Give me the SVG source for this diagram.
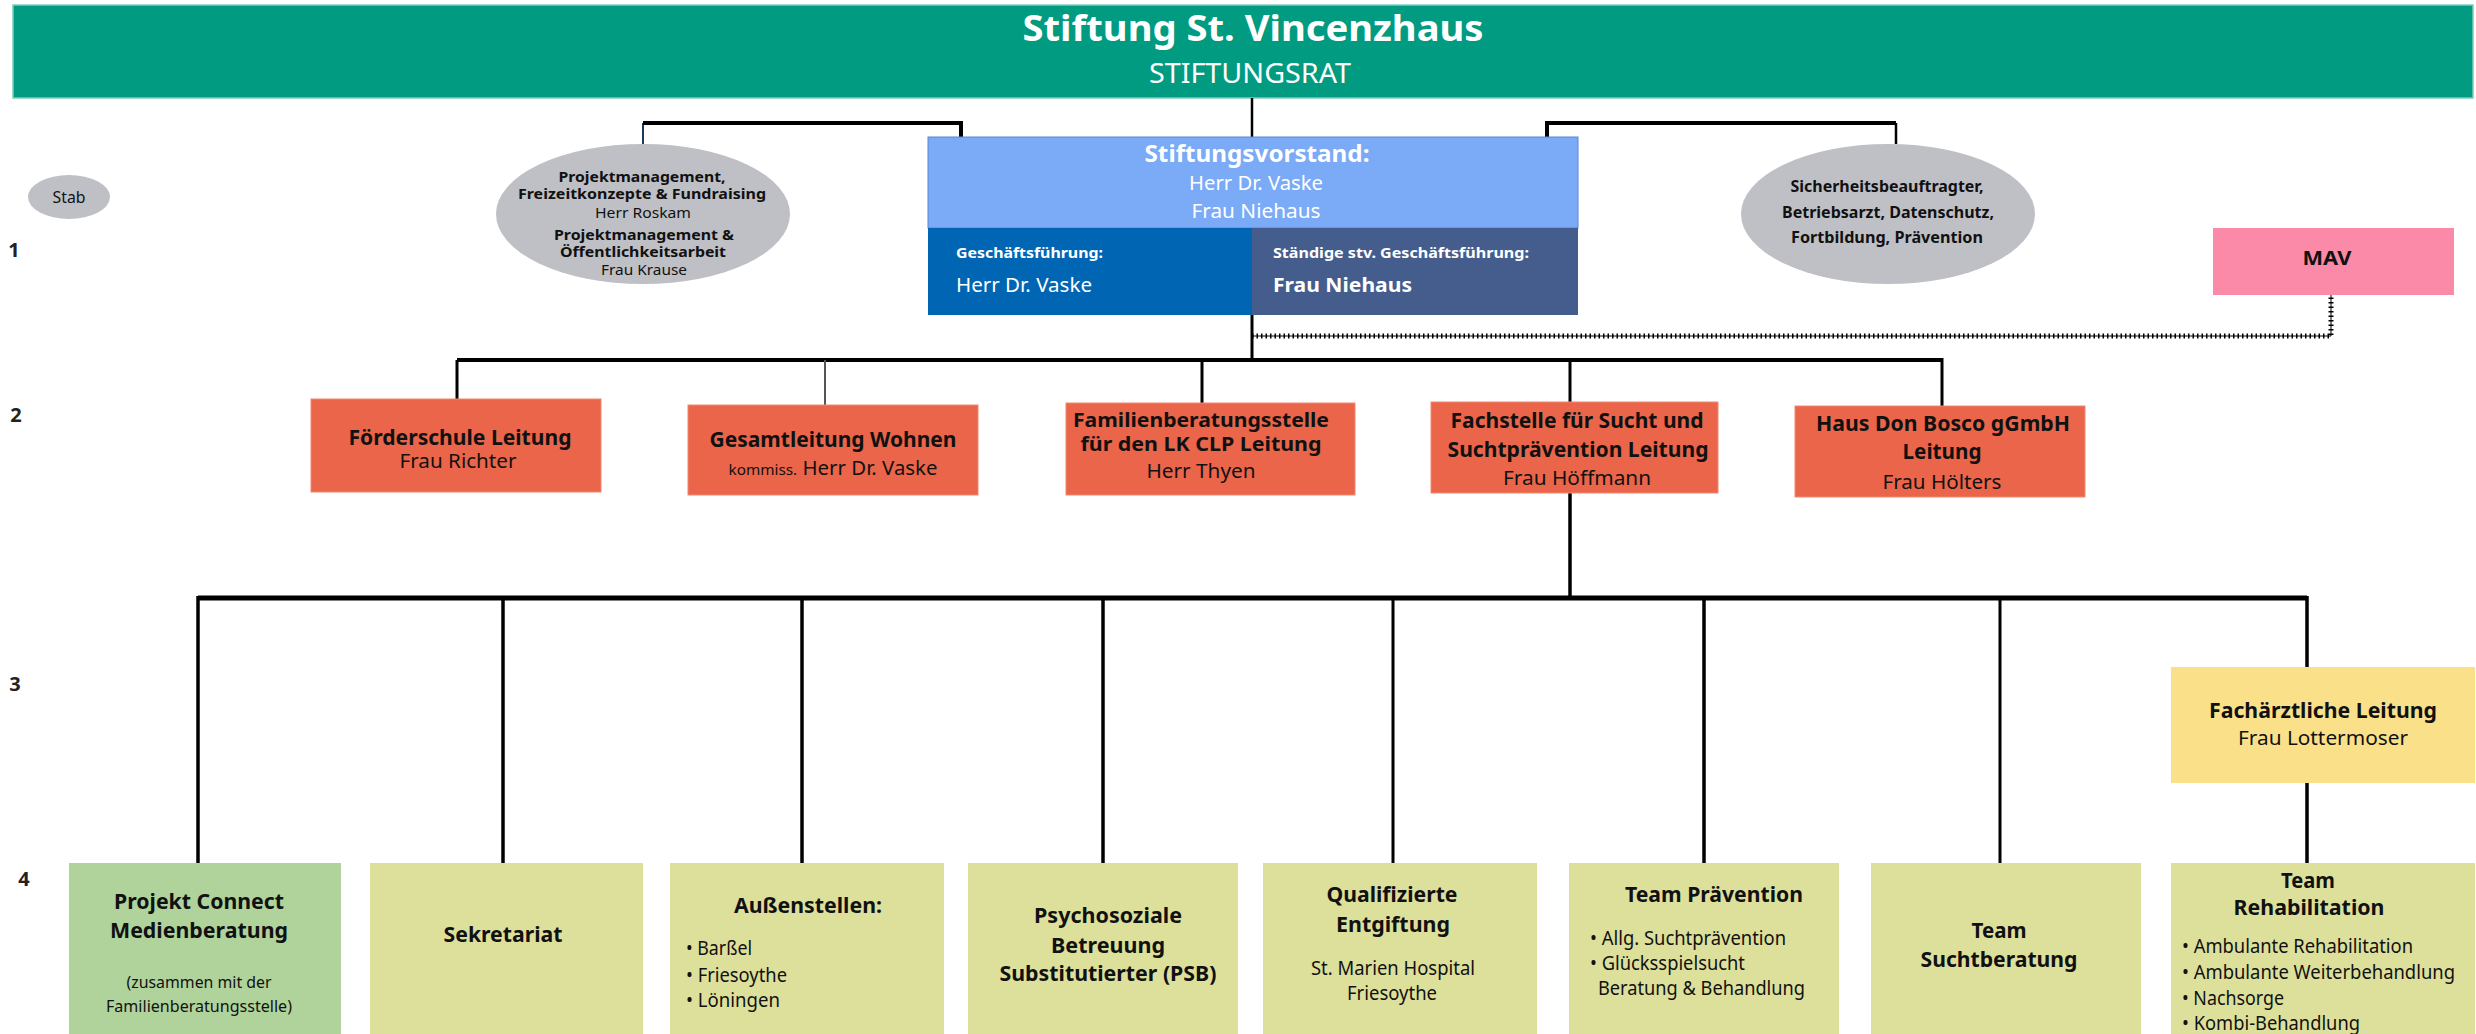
<svg xmlns="http://www.w3.org/2000/svg" width="2476" height="1034" viewBox="0 0 2476 1034">
<style>
text{font-family:"Noto Sans","Open Sans",sans-serif;fill:#111;}
.b{font-weight:700;}
.w{fill:#fff;}
.m{text-anchor:middle;}
.lvl{font-size:20px;font-weight:700;fill:#222;text-anchor:middle;}
.ell{fill:#bfc0c5;}
.org{fill:#ea6549;stroke:#f08a72;stroke-width:1;}
.l4{fill:#dde09b;}
.ln{stroke:#000;fill:none;}
</style>
<rect width="2476" height="1034" fill="#fff"/>

<g id="header">
<rect x="13" y="5" width="2460" height="93" fill="#009b80" stroke="#7fcdbb" stroke-width="1.5"/>
<text class="b w m" x="1253" y="41" font-size="35" textLength="461" lengthAdjust="spacingAndGlyphs">Stiftung St. Vincenzhaus</text>
<text class="w m" x="1250" y="83" font-size="28" textLength="202" lengthAdjust="spacingAndGlyphs">STIFTUNGSRAT</text>
</g>

<g id="level-labels">
<text class="lvl" x="14" y="257">1</text>
<text class="lvl" x="16" y="422">2</text>
<text class="lvl" x="15" y="691">3</text>
<text class="lvl" x="24" y="886">4</text>
</g>

<g id="connectors">
<line class="ln" x1="1252" y1="98" x2="1252" y2="137" stroke-width="2.5"/>
<line x1="643" y1="123" x2="643" y2="145" stroke="#1a3a5c" stroke-width="2"/>
<path class="ln" d="M643 123 H961 V138" stroke-width="4"/>
<path class="ln" d="M1547 138 V123 H1896" stroke-width="4"/>
<line class="ln" x1="1896" y1="123" x2="1896" y2="144" stroke-width="2.5"/>
<line class="ln" x1="1252" y1="315" x2="1252" y2="361" stroke-width="3"/>
<path class="ln" d="M1252 336 H2331 V295" stroke-width="1"/>
<path class="ln" d="M1252 336 H2331 V295" stroke-width="5" stroke-dasharray="1.5 3"/>
<path class="ln" d="M457 360 H1942" stroke-width="4"/>
<line class="ln" x1="457" y1="360" x2="457" y2="399" stroke-width="3"/>
<line x1="825" y1="360" x2="825" y2="405" stroke="#555" stroke-width="2"/>
<line class="ln" x1="1202" y1="360" x2="1202" y2="403" stroke-width="3"/>
<line class="ln" x1="1570" y1="360" x2="1570" y2="402" stroke-width="3"/>
<line class="ln" x1="1942" y1="358" x2="1942" y2="406" stroke-width="3"/>
<line class="ln" x1="1570" y1="493" x2="1570" y2="598" stroke-width="3.5"/>
<path class="ln" d="M198 598 H2307" stroke-width="5"/>
<line class="ln" x1="198" y1="596" x2="198" y2="863" stroke-width="3.5"/>
<line class="ln" x1="503" y1="598" x2="503" y2="863" stroke-width="3.5"/>
<line class="ln" x1="802" y1="598" x2="802" y2="863" stroke-width="3.5"/>
<line class="ln" x1="1103" y1="598" x2="1103" y2="863" stroke-width="3.5"/>
<line class="ln" x1="1393" y1="598" x2="1393" y2="863" stroke-width="3"/>
<line class="ln" x1="1704" y1="598" x2="1704" y2="863" stroke-width="3.5"/>
<line class="ln" x1="2000" y1="598" x2="2000" y2="863" stroke-width="3"/>
<line class="ln" x1="2307" y1="596" x2="2307" y2="667" stroke-width="3.5"/>
<line class="ln" x1="2307" y1="783" x2="2307" y2="863" stroke-width="3.5"/>
</g>

<g id="stab">
<ellipse class="ell" cx="69" cy="197" rx="41" ry="22"/>
<text class="m" x="69" y="203" font-size="17" textLength="33" lengthAdjust="spacingAndGlyphs">Stab</text>
</g>

<g id="stab-projekt">
<ellipse class="ell" cx="643" cy="214" rx="147" ry="70"/>
<text class="b m" x="642" y="182" font-size="14" textLength="167" lengthAdjust="spacingAndGlyphs">Projektmanagement,</text>
<text class="b m" x="642" y="199" font-size="14" textLength="248" lengthAdjust="spacingAndGlyphs">Freizeitkonzepte &amp; Fundraising</text>
<text class="m" x="643" y="218" font-size="14" textLength="96" lengthAdjust="spacingAndGlyphs">Herr Roskam</text>
<text class="b m" x="644" y="240" font-size="14" textLength="180" lengthAdjust="spacingAndGlyphs">Projektmanagement &amp;</text>
<text class="b m" x="643" y="257" font-size="14" textLength="166" lengthAdjust="spacingAndGlyphs">Öffentlichkeitsarbeit</text>
<text class="m" x="644" y="275" font-size="14" textLength="86" lengthAdjust="spacingAndGlyphs">Frau Krause</text>
</g>

<g id="vorstand">
<rect x="928" y="137" width="650" height="91" fill="#7baaf7" stroke="#5a86d6" stroke-width="1"/>
<rect x="928" y="228" width="324" height="87" fill="#0066b3"/>
<rect x="1252" y="228" width="326" height="87" fill="#445d8c"/>
<text class="b w m" x="1257" y="162" font-size="24" textLength="225" lengthAdjust="spacingAndGlyphs">Stiftungsvorstand:</text>
<text class="w m" x="1256" y="190" font-size="20" textLength="134" lengthAdjust="spacingAndGlyphs">Herr Dr. Vaske</text>
<text class="w m" x="1256" y="218" font-size="20" textLength="129" lengthAdjust="spacingAndGlyphs">Frau Niehaus</text>
<text class="b w" x="956" y="258" font-size="15" textLength="147" lengthAdjust="spacingAndGlyphs">Geschäftsführung:</text>
<text class="w" x="956" y="292" font-size="20" textLength="136" lengthAdjust="spacingAndGlyphs">Herr Dr. Vaske</text>
<text class="b w" x="1273" y="258" font-size="15" textLength="256" lengthAdjust="spacingAndGlyphs">Ständige stv. Geschäftsführung:</text>
<text class="b w" x="1273" y="292" font-size="20" textLength="139" lengthAdjust="spacingAndGlyphs">Frau Niehaus</text>
</g>

<g id="stab-sicherheit">
<ellipse class="ell" cx="1888" cy="214" rx="147" ry="70"/>
<text class="b m" x="1887" y="192" font-size="16" textLength="193" lengthAdjust="spacingAndGlyphs">Sicherheitsbeauftragter,</text>
<text class="b m" x="1888" y="218" font-size="16" textLength="212" lengthAdjust="spacingAndGlyphs">Betriebsarzt, Datenschutz,</text>
<text class="b m" x="1887" y="243" font-size="16" textLength="192" lengthAdjust="spacingAndGlyphs">Fortbildung, Prävention</text>
</g>

<g id="mav">
<rect x="2213" y="228" width="241" height="67" fill="#fa8aa7"/>
<text class="b m" x="2327" y="265" font-size="20" textLength="49" lengthAdjust="spacingAndGlyphs">MAV</text>
</g>

<g id="foerderschule">
<rect class="org" x="311" y="399" width="290" height="93"/>
<text class="b m" x="460" y="445" font-size="22" textLength="223" lengthAdjust="spacingAndGlyphs">Förderschule Leitung</text>
<text class="m" x="458" y="468" font-size="20" textLength="117" lengthAdjust="spacingAndGlyphs">Frau Richter</text>
</g>

<g id="wohnen">
<rect class="org" x="688" y="405" width="290" height="90"/>
<text class="b m" x="833" y="447" font-size="22" textLength="247" lengthAdjust="spacingAndGlyphs">Gesamtleitung Wohnen</text>
<text class="m" x="833" y="475" font-size="20" textLength="209" lengthAdjust="spacingAndGlyphs"><tspan font-size="15">kommiss.</tspan> Herr Dr. Vaske</text>
</g>

<g id="familienberatung">
<rect class="org" x="1066" y="403" width="289" height="92"/>
<text class="b m" x="1201" y="427" font-size="20" textLength="256" lengthAdjust="spacingAndGlyphs">Familienberatungsstelle</text>
<text class="b m" x="1201" y="451" font-size="20" textLength="241" lengthAdjust="spacingAndGlyphs">für den LK CLP Leitung</text>
<text class="m" x="1201" y="478" font-size="20" textLength="109" lengthAdjust="spacingAndGlyphs">Herr Thyen</text>
</g>

<g id="fachstelle">
<rect class="org" x="1431" y="402" width="287" height="91"/>
<text class="b m" x="1577" y="428" font-size="22" textLength="253" lengthAdjust="spacingAndGlyphs">Fachstelle für Sucht und</text>
<text class="b m" x="1578" y="457" font-size="22" textLength="261" lengthAdjust="spacingAndGlyphs">Suchtprävention Leitung</text>
<text class="m" x="1577" y="485" font-size="20" textLength="148" lengthAdjust="spacingAndGlyphs">Frau Höffmann</text>
</g>

<g id="donbosco">
<rect class="org" x="1795" y="406" width="290" height="91"/>
<text class="b m" x="1943" y="431" font-size="22" textLength="254" lengthAdjust="spacingAndGlyphs">Haus Don Bosco gGmbH</text>
<text class="b m" x="1942" y="459" font-size="22" textLength="79" lengthAdjust="spacingAndGlyphs">Leitung</text>
<text class="m" x="1942" y="489" font-size="20" textLength="119" lengthAdjust="spacingAndGlyphs">Frau Hölters</text>
</g>

<g id="fachaerztlich">
<rect x="2171" y="667" width="304" height="116" fill="#fbe08a"/>
<text class="b m" x="2323" y="718" font-size="22" textLength="228" lengthAdjust="spacingAndGlyphs">Fachärztliche Leitung</text>
<text class="m" x="2323" y="745" font-size="20" textLength="170" lengthAdjust="spacingAndGlyphs">Frau Lottermoser</text>
</g>

<g id="connect">
<rect x="69" y="863" width="272" height="171" fill="#afd39b"/>
<text class="b m" x="199" y="909" font-size="22" textLength="170" lengthAdjust="spacingAndGlyphs">Projekt Connect</text>
<text class="b m" x="199" y="938" font-size="22" textLength="178" lengthAdjust="spacingAndGlyphs">Medienberatung</text>
<text class="m" x="199" y="988" font-size="16" textLength="145" lengthAdjust="spacingAndGlyphs">(zusammen mit der</text>
<text class="m" x="199" y="1012" font-size="16" textLength="186" lengthAdjust="spacingAndGlyphs">Familienberatungsstelle)</text>
</g>

<g id="sekretariat">
<rect class="l4" x="370" y="863" width="273" height="171"/>
<text class="b m" x="503" y="942" font-size="22" textLength="119" lengthAdjust="spacingAndGlyphs">Sekretariat</text>
</g>

<g id="aussenstellen">
<rect class="l4" x="670" y="863" width="274" height="171"/>
<text class="b m" x="808" y="913" font-size="22" textLength="148" lengthAdjust="spacingAndGlyphs">Außenstellen:</text>
<text x="686" y="955" font-size="19" textLength="66" lengthAdjust="spacingAndGlyphs">• Barßel</text>
<text x="686" y="982" font-size="19" textLength="101" lengthAdjust="spacingAndGlyphs">• Friesoythe</text>
<text x="686" y="1007" font-size="19" textLength="94" lengthAdjust="spacingAndGlyphs">• Löningen</text>
</g>

<g id="psb">
<rect class="l4" x="968" y="863" width="270" height="171"/>
<text class="b m" x="1108" y="923" font-size="22" textLength="148" lengthAdjust="spacingAndGlyphs">Psychosoziale</text>
<text class="b m" x="1108" y="953" font-size="22" textLength="114" lengthAdjust="spacingAndGlyphs">Betreuung</text>
<text class="b m" x="1108" y="981" font-size="22" textLength="217" lengthAdjust="spacingAndGlyphs">Substitutierter (PSB)</text>
</g>

<g id="entgiftung">
<rect class="l4" x="1263" y="863" width="274" height="171"/>
<text class="b m" x="1392" y="902" font-size="22" textLength="131" lengthAdjust="spacingAndGlyphs">Qualifizierte</text>
<text class="b m" x="1393" y="932" font-size="22" textLength="114" lengthAdjust="spacingAndGlyphs">Entgiftung</text>
<text class="m" x="1393" y="975" font-size="19" textLength="164" lengthAdjust="spacingAndGlyphs">St. Marien Hospital</text>
<text class="m" x="1392" y="1000" font-size="19" textLength="90" lengthAdjust="spacingAndGlyphs">Friesoythe</text>
</g>

<g id="praevention">
<rect class="l4" x="1569" y="863" width="270" height="171"/>
<text class="b m" x="1714" y="902" font-size="22" textLength="178" lengthAdjust="spacingAndGlyphs">Team Prävention</text>
<text x="1590" y="945" font-size="19" textLength="196" lengthAdjust="spacingAndGlyphs">• Allg. Suchtprävention</text>
<text x="1590" y="970" font-size="19" textLength="155" lengthAdjust="spacingAndGlyphs">• Glücksspielsucht</text>
<text x="1598" y="995" font-size="19" textLength="207" lengthAdjust="spacingAndGlyphs">Beratung &amp; Behandlung</text>
</g>

<g id="suchtberatung">
<rect class="l4" x="1871" y="863" width="270" height="171"/>
<text class="b m" x="1999" y="938" font-size="22" textLength="55" lengthAdjust="spacingAndGlyphs">Team</text>
<text class="b m" x="1999" y="967" font-size="22" textLength="157" lengthAdjust="spacingAndGlyphs">Suchtberatung</text>
</g>

<g id="rehabilitation">
<rect class="l4" x="2171" y="863" width="304" height="171"/>
<text class="b m" x="2308" y="888" font-size="22" textLength="54" lengthAdjust="spacingAndGlyphs">Team</text>
<text class="b m" x="2309" y="915" font-size="22" textLength="151" lengthAdjust="spacingAndGlyphs">Rehabilitation</text>
<text x="2182" y="953" font-size="19" textLength="231" lengthAdjust="spacingAndGlyphs">• Ambulante Rehabilitation</text>
<text x="2182" y="979" font-size="19" textLength="273" lengthAdjust="spacingAndGlyphs">• Ambulante Weiterbehandlung</text>
<text x="2182" y="1005" font-size="19" textLength="102" lengthAdjust="spacingAndGlyphs">• Nachsorge</text>
<text x="2182" y="1030" font-size="19" textLength="178" lengthAdjust="spacingAndGlyphs">• Kombi-Behandlung</text>
</g>
</svg>
